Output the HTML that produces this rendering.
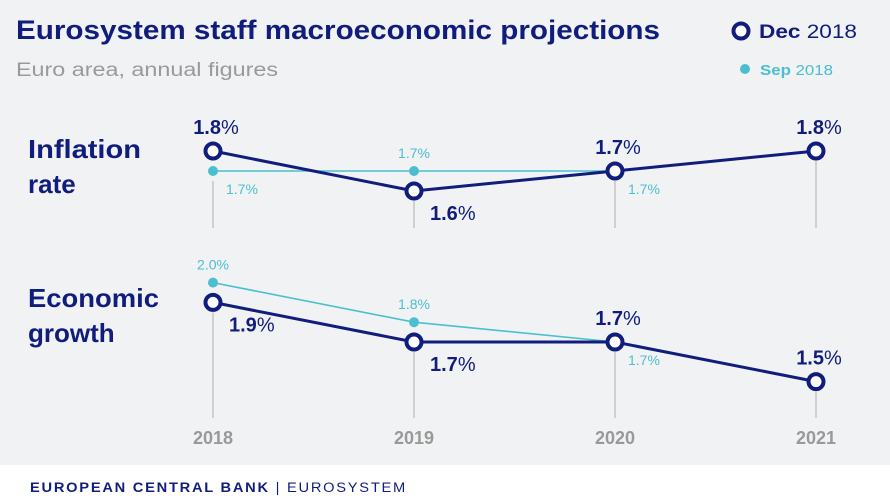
<!DOCTYPE html>
<html><head><meta charset="utf-8"><style>
body{margin:0;width:890px;height:498px;overflow:hidden;background:#f1f2f3;font-family:"Liberation Sans",sans-serif}
svg{display:block}
</style></head><body>
<svg id="c" width="890" height="498" xmlns="http://www.w3.org/2000/svg">
<rect x="0" y="0" width="890" height="465" fill="#f1f2f3"/>
<rect x="0" y="465" width="890" height="33" fill="#ffffff"/>
<text x="16" y="39" font-size="27" font-weight="bold" fill="#101d7c" textLength="644" lengthAdjust="spacingAndGlyphs">Eurosystem staff macroeconomic projections</text>
<text x="16" y="76" font-size="19" fill="#9a9a9a" textLength="262" lengthAdjust="spacingAndGlyphs">Euro area, annual figures</text>
<g>
<circle cx="741" cy="31" r="7.5" fill="#fff" stroke="#101d7c" stroke-width="4"/>
<text x="759" y="38" font-size="19" fill="#101d7c" textLength="98" lengthAdjust="spacingAndGlyphs"><tspan font-weight="bold">Dec</tspan> 2018</text></g>
<g>
<circle cx="745" cy="69" r="5" fill="#4bbfd0"/>
<text x="760" y="75" font-size="15" fill="#4bbfd0" textLength="73" lengthAdjust="spacingAndGlyphs"><tspan font-weight="bold">Sep</tspan> 2018</text></g>
<text x="28" y="158" font-size="26" font-weight="bold" fill="#101d7c" textLength="113" lengthAdjust="spacingAndGlyphs">Inflation</text>
<text x="28" y="193" font-size="26" font-weight="bold" fill="#101d7c">rate</text>
<text x="28" y="307" font-size="26" font-weight="bold" fill="#101d7c" textLength="131" lengthAdjust="spacingAndGlyphs">Economic</text>
<text x="28" y="342" font-size="26" font-weight="bold" fill="#101d7c">growth</text>
<text x="30" y="492" font-size="13.5" font-weight="bold" letter-spacing="1.6" fill="#101d7c" textLength="377" lengthAdjust="spacingAndGlyphs">EUROPEAN CENTRAL BANK <tspan font-weight="normal">| EUROSYSTEM</tspan></text>
<g id="marks"></g>
</svg>
<script>
const years=["2018","2019","2020","2021"];
const inflDec=[1.8,1.6,1.7,1.8];
const inflSep=[1.7,1.7,1.7];
const growDec=[1.9,1.7,1.7,1.5];
const growSep=[2.0,1.8,1.7];
const NS="http://www.w3.org/2000/svg";
const g=document.getElementById("marks");
const xS=i=>213+i*201;
const yInf=v=>171-(v-1.7)*200;
const yGr=v=>342-(v-1.7)*198;
function el(t,a){const e=document.createElementNS(NS,t);for(const k in a)e.setAttribute(k,a[k]);g.appendChild(e);return e;}
years.forEach((y,i)=>{
 const t=el("text",{x:xS(i),y:444,"font-size":18,"font-weight":"bold",fill:"#999","text-anchor":"middle"});t.textContent=y;
 
 
 const top1=Math.max(yInf(inflDec[i]),i<inflSep.length?yInf(inflSep[i]):0)+10;
 const l1=el("line",{x1:xS(i),x2:xS(i),y1:top1,y2:228,stroke:"#c4c4c4","stroke-width":1.5});
 
 
 const top2=yGr(growDec[i])+10;
 const l2=el("line",{x1:xS(i),x2:xS(i),y1:top2,y2:418,stroke:"#c4c4c4","stroke-width":1.5});
 
 
});
function series(vals,ys,color,w,name){
 const p=el("polyline",{points:vals.map((v,i)=>xS(i)+","+ys(v)).join(" "),fill:"none",stroke:color,"stroke-width":w});
 
 
}
function label(x,y,txt,big,color,anchor,name){
 const t=el("text",{x:x,y:y,fill:color,"font-size":big?20:14,"text-anchor":anchor});
 if(big){t.innerHTML='<tspan font-weight="bold">'+txt+'</tspan>%';}else t.textContent=txt+"%";
 
 
}
const infDecPos=["a","b","a","a"],infSepPos=["b","a","b"];
const grDecPos=["b","b","a","a"],grSepPos=["a","a","b"];
function draw(dec,sep,ys,dPos,sPos,name){
 series(sep,ys,"#4bbfd0",1.6,name+'-sep');
 series(dec,ys,"#101d7c",3,name+'-dec');
 sep.forEach((v,i)=>{
  const c=el("circle",{cx:xS(i),cy:ys(v),r:5,fill:"#4bbfd0"});
  
  
  const x=xS(i),y=ys(v);
  if(sPos[i]==="a")label(x,y-13,v.toFixed(1),false,"#4bbfd0","middle",name+'-sep-value-'+years[i]);
  else label(x+13,y+23,v.toFixed(1),false,"#4bbfd0","start",name+'-sep-value-'+years[i]);
 });
 dec.forEach((v,i)=>{
  const x=xS(i),y=ys(v);
  const c=el("circle",{cx:x,cy:y,r:7.5,fill:"#fff",stroke:"#101d7c","stroke-width":4});
  
  
  if(dPos[i]==="a")label(x+3,y-17,v.toFixed(1),true,"#101d7c","middle",name+'-dec-value-'+years[i]);
  else label(x+16,y+29,v.toFixed(1),true,"#101d7c","start",name+'-dec-value-'+years[i]);
 });
}
draw(inflDec,inflSep,yInf,infDecPos,infSepPos,"inflation");
draw(growDec,growSep,yGr,grDecPos,grSepPos,"growth");
</script>
</body></html>
